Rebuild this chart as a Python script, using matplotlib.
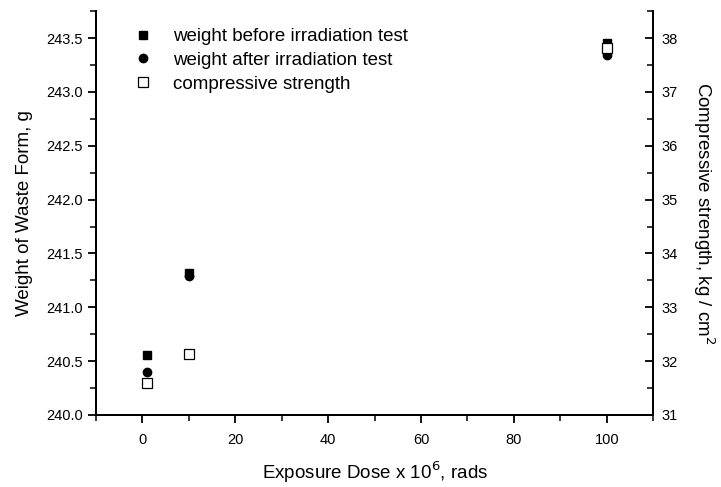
import matplotlib
matplotlib.use("Agg")
import matplotlib.pyplot as plt
from matplotlib.ticker import MultipleLocator

plt.rcParams['font.family'] = ['Liberation Sans', 'DejaVu Sans']

dose = [1, 10, 100]
weight_before = [240.56, 241.32, 243.45]
weight_after = [240.40, 241.29, 243.34]
strength = [31.60, 32.13, 37.82]

fig = plt.figure(figsize=(7.21, 4.87), dpi=100)
ax = fig.add_axes([0.133, 0.148, 0.773, 0.829])
ax2 = ax.twinx()

h1, = ax.plot(dose, weight_before, 's', color='black', ms=6, label="weight before irradiation test")
h2, = ax.plot(dose, weight_after, 'o', color='black', ms=6, label="weight after irradiation test")
h3, = ax2.plot(dose, strength, 's', mfc='white', mec='black', mew=0.9, ms=6.5, label="compressive strength")

ax.set_xlim(-10, 110)
ax.set_ylim(240.0, 243.75)
ax2.set_ylim(31, 38.5)

ax.xaxis.set_major_locator(MultipleLocator(20))
ax.xaxis.set_minor_locator(MultipleLocator(10))
ax.yaxis.set_major_locator(MultipleLocator(0.5))
ax.yaxis.set_minor_locator(MultipleLocator(0.25))
ax2.yaxis.set_major_locator(MultipleLocator(1))
ax2.yaxis.set_minor_locator(MultipleLocator(0.5))
ax.yaxis.set_major_formatter(plt.FormatStrFormatter('%.1f'))

for a in (ax, ax2):
    for s in a.spines.values():
        s.set_linewidth(1.4)
    a.spines['top'].set_visible(False)
ax.tick_params(axis='both', which='major', direction='out', length=6, width=1.3, labelsize=10.5)
ax.tick_params(axis='x', which='major', pad=7)
ax.tick_params(axis='both', which='minor', direction='out', length=4, width=1.1)
ax2.tick_params(axis='y', which='major', direction='in', length=6, width=1.3, labelsize=10.5, pad=6)
ax2.tick_params(axis='y', which='minor', direction='in', length=4, width=1.1)

ax.set_xlabel("Exposure Dose x 10$^6$, rads", fontsize=13.5, labelpad=9)
ax.set_ylabel("Weight of Waste Form, g", fontsize=13.5, labelpad=9)
ax2.set_ylabel("Compressive strength, kg / cm$^2$", fontsize=13.5, rotation=270, labelpad=28)

ax.legend(handles=[h1, h2, h3], loc='upper left', bbox_to_anchor=(0.03, 1.0),
          frameon=False, fontsize=13.5, handlelength=1.4, handletextpad=0.9,
          labelspacing=0.35)

fig.savefig("out.png", dpi=100)
